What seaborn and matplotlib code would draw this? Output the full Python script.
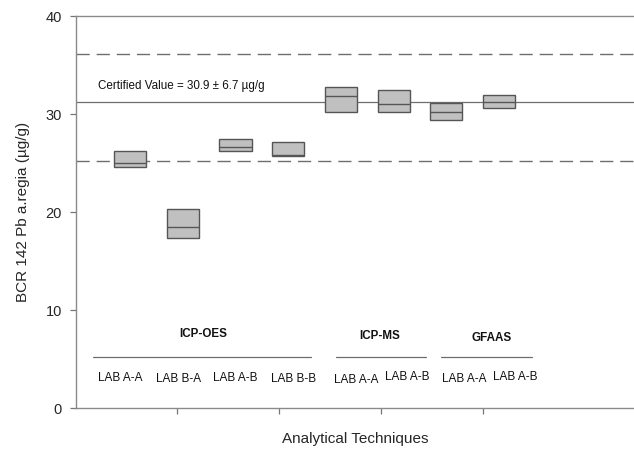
import numpy as np
import pandas as pd
import matplotlib
matplotlib.use("Agg")
import matplotlib.pyplot as plt
import seaborn as sns

# ---- data ----
box_ids = ["OES A-A", "OES B-A", "OES A-B", "OES B-B", "MS A-A", "MS A-B", "GF A-A", "GF A-B"]
lab_labels = ["LAB A-A", "LAB B-A", "LAB A-B", "LAB B-B", "LAB A-A", "LAB A-B", "LAB A-A", "LAB A-B"]
box_low = [24.6, 17.3, 26.2, 25.75, 30.25, 30.2, 29.4, 30.6]
box_median = [25.05, 18.45, 26.6, 25.85, 31.85, 31.05, 30.25, 31.25]
box_high = [26.25, 20.35, 27.45, 27.15, 32.8, 32.45, 31.1, 31.95]
group_names = ["ICP-OES", "ICP-MS", "GFAAS"]
certified_value = 31.2
certified_low = 25.25
certified_high = 36.1
certified_text = "Certified Value = 30.9 ± 6.7 µg/g"
y_ticks = [0, 10, 20, 30, 40]

rows = []
for bid, lo, med, hi in zip(box_ids, box_low, box_median, box_high):
    for v in (lo, lo, med, hi, hi):
        rows.append({"box": bid, "value": v})
df = pd.DataFrame(rows)

sns.set_style("ticks")
plt.rcParams["font.family"] = ["Liberation Sans", "DejaVu Sans"]

fig = plt.figure(figsize=(6.34, 4.53), dpi=100)
ax = fig.add_axes([76 / 634, 45 / 453, 1 - 76 / 634, 392 / 453])

edge = "#555555"
sns.boxplot(data=df, x="box", y="value", order=box_ids, ax=ax, whis=0,
            showcaps=False, showfliers=False, width=0.61, color="#c0c0c0",
            linewidth=1.0, linecolor=edge, saturation=1,
            medianprops=dict(color=edge, linewidth=1.0),
            whiskerprops=dict(linewidth=0))

line_c = "#6e6e6e"
ax.axhline(certified_value, color=line_c, lw=0.9, zorder=0.5)
ax.axhline(certified_low, color=line_c, lw=1.0, ls=(0, (9.5, 5)), zorder=0.5)
ax.axhline(certified_high, color=line_c, lw=1.0, ls=(0, (9.5, 5)), zorder=0.5)

ax.set_xlim(-1.025, 9.56)
ax.set_ylim(0, 40)
ax.set_yticks(y_ticks)
ax.set_xticks([0.89, 2.83, 4.76, 6.70])
ax.set_xticklabels([])
ax.tick_params(axis="y", labelsize=10.5, length=4, width=0.9, color="#777777", pad=6)
ax.tick_params(axis="x", length=4, width=0.9, color="#777777")

for side in ["left", "bottom", "top"]:
    ax.spines[side].set_color("#8a8a8a")
    ax.spines[side].set_linewidth(1.0)
ax.spines["right"].set_visible(False)

ax.text(-0.61, 32.86, certified_text, fontsize=8.35, va="center", ha="left", color="#111111")

# group labels and underlines
grp_x = [2.39, 5.74, 7.85]
grp_y = [7.55, 7.35, 7.14]
grp_line = [(-0.70, 3.43), (3.91, 5.62), (5.90, 7.63)]
for name, gx, gy, (l0, l1) in zip(group_names, grp_x, grp_y, grp_line):
    ax.text(gx - 1, gy, name, fontsize=8.4, fontweight="bold", ha="center", va="center", color="#111111")
    ax.plot([l0, l1], [5.17, 5.17], color=line_c, lw=0.9)

lab_x = [0.81, 1.93, 2.99, 4.11, 5.29, 6.26, 7.34, 8.31]
lab_y = [3.09, 2.96, 3.09, 2.96, 2.90, 3.15, 2.96, 3.15]
for lab, lx, ly in zip(lab_labels, lab_x, lab_y):
    ax.text(lx - 1, ly, lab, fontsize=8.5, ha="center", va="center", color="#111111")

ax.set_xlabel("Analytical Techniques", fontsize=11, labelpad=10)
ax.set_ylabel("BCR 142 Pb a.regia (µg/g)", fontsize=11, labelpad=11)

fig.savefig("out.png", dpi=100)
